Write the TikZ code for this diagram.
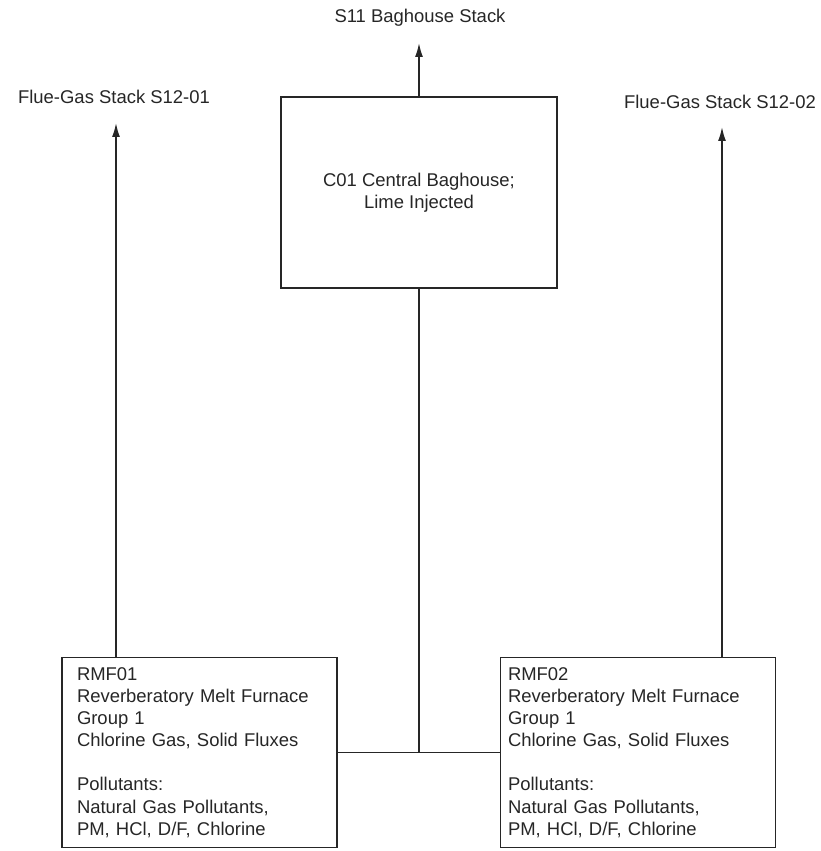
\documentclass[tikz,border=0pt]{standalone}
\usepackage{fontspec}
\setmainfont{Liberation Sans}
\usetikzlibrary{arrows.meta}

\begin{document}
\begin{tikzpicture}[
    every node/.style={font=\fontsize{10.5}{12.6}\selectfont, text=black!85},
    unitbox/.style={draw=black!85, line width=0.9pt},
    furnace/.style={unitbox, align=left, minimum width=5.5cm, minimum height=3.8cm},
    flow/.style={draw=black!85, line width=0.9pt},
    stackflow/.style={flow, -{Latex[length=0.28cm,width=0.16cm]}}
  ]
  \useasboundingbox (0,0) rectangle (16.42,17.02);

  \node[unitbox, align=center, minimum width=5.52cm, minimum height=3.82cm] (bh) at (8.38,13.17)
    {C01 Central Baghouse;\\Lime Injected};

  \node[furnace, text width=4.9cm, inner xsep=0.3cm] (rmf1) at (3.99,1.97)
    {RMF01\\Reverberatory Melt Furnace\\Group 1\\Chlorine Gas, Solid Fluxes\\[12.6pt]Pollutants:\\Natural Gas Pollutants,\\PM, HCl, D/F, Chlorine};
  \node[furnace, text width=5.2cm, inner xsep=0.15cm] (rmf2) at (12.76,1.97)
    {RMF02\\Reverberatory Melt Furnace\\Group 1\\Chlorine Gas, Solid Fluxes\\[12.6pt]Pollutants:\\Natural Gas Pollutants,\\PM, HCl, D/F, Chlorine};

  \node (s11) at (8.4,16.66) {S11 Baghouse Stack};
  \node (s1201) at (2.28,15.08) {Flue-Gas Stack S12-01};
  \node (s1202) at (14.4,14.98) {Flue-Gas Stack S12-02};

  \coordinate (t11) at (8.38,16.16);
  \coordinate (t1) at (2.32,14.56);
  \coordinate (t2) at (14.44,14.48);

  \draw[flow] (rmf1.east) -- (rmf2.west);
  \draw[flow] (bh.south) -- (bh.south |- rmf1.east);
  \draw[stackflow] (bh.north) -- (t11);
  \draw[stackflow] (t1 |- rmf1.north) -- (t1);
  \draw[stackflow] (t2 |- rmf2.north) -- (t2);
\end{tikzpicture}
\end{document}
